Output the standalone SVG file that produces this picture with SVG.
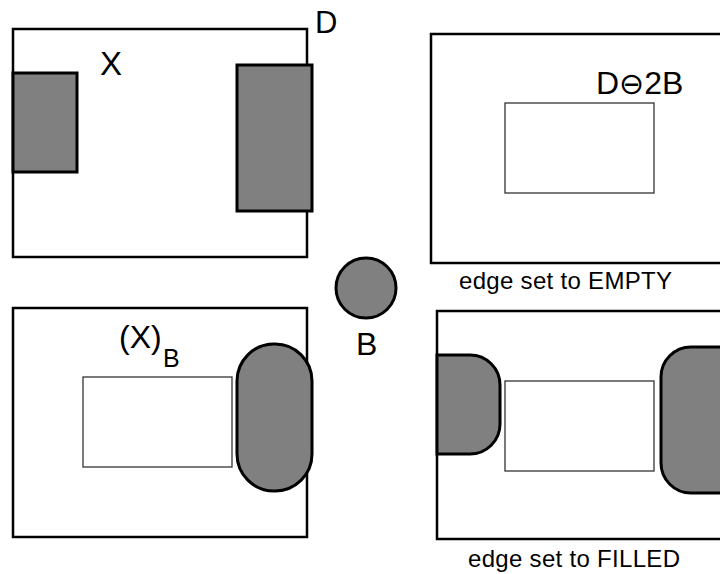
<svg xmlns="http://www.w3.org/2000/svg" width="720" height="574" viewBox="0 0 720 574">
<style>
.frame{fill:none;stroke:#000;stroke-width:2.5}
.grey{fill:#808080;stroke:#000;stroke-width:3}
.inner{fill:#fff;stroke:#333;stroke-width:1.3}
.t{font-family:"Liberation Sans",Arial,sans-serif;fill:#000}
</style>
<rect width="720" height="574" fill="#fff"/>
<g id="panel-x">
<rect class="frame" x="13" y="29" width="294" height="228"/>
<rect class="grey" x="13" y="73" width="64" height="99"/>
<rect class="grey" x="237" y="65" width="75" height="146"/>
<text class="t" x="315" y="33" font-size="31">D</text>
<text class="t" x="100" y="75" font-size="33">X</text>
</g>
<g id="panel-erosion">
<rect class="frame" x="431" y="34" width="300" height="229"/>
<rect class="inner" x="505" y="103" width="149" height="90"/>
<text class="t" x="596" y="94" font-size="32">D<tspan font-size="30" font-family="DejaVu Sans, sans-serif">⊖</tspan>2B</text>
<text class="t" x="459" y="289" font-size="24" textLength="213">edge set to EMPTY</text>
</g>
<g id="structuring-element">
<circle class="grey" cx="366" cy="288" r="30"/>
<text class="t" x="356" y="355" font-size="32">B</text>
</g>
<g id="panel-opening">
<rect class="frame" x="13" y="308" width="294" height="229"/>
<rect class="inner" x="83" y="377" width="149" height="90"/>
<rect class="grey" x="237" y="344" width="75" height="147" rx="37" ry="37"/>
<text class="t" x="119" y="348" font-size="32">(X)<tspan font-size="25" x="163" y="367">B</tspan></text>
</g>
<g id="panel-filled">
<rect class="frame" x="437" y="311" width="300" height="228"/>
<rect class="inner" x="505" y="381" width="149" height="90"/>
<path class="grey" d="M437,355 H470 A30,30 0 0 1 500,385 V424 A30,30 0 0 1 470,454 H437 Z"/>
<rect class="grey" x="661" y="347" width="100" height="146" rx="30" ry="30"/>
<text class="t" x="468" y="567" font-size="24" textLength="212">edge set to FILLED</text>
</g>
<g id="connectors"/>
</svg>
